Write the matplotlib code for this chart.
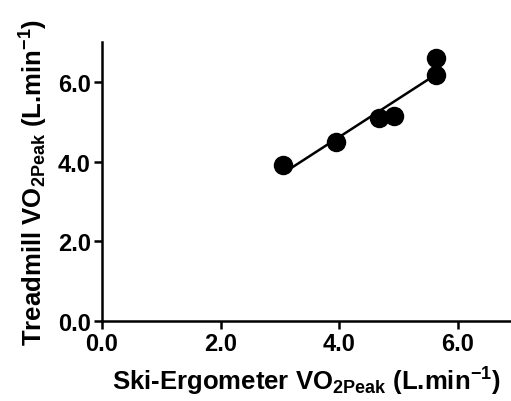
import numpy as np
import matplotlib
matplotlib.use("Agg")
import matplotlib.pyplot as plt

# peak VO2 values (L.min-1)
ski_vo2 = [3.05, 3.95, 4.68, 4.92, 5.63, 5.63]
treadmill_vo2 = [3.92, 4.48, 5.10, 5.14, 6.17, 6.59]
ticks = [0.0, 2.0, 4.0, 6.0]

plt.rcParams['font.family'] = 'Liberation Sans'
plt.rcParams['font.weight'] = 'bold'
plt.rcParams['axes.labelweight'] = 'bold'
plt.rcParams['mathtext.fontset'] = 'custom'
plt.rcParams['mathtext.rm'] = 'Liberation Sans:bold'
plt.rcParams['mathtext.it'] = 'Liberation Sans:bold'
plt.rcParams['mathtext.bf'] = 'Liberation Sans:bold'

fig = plt.figure(figsize=(5.11, 4.02), dpi=100)
ax = fig.add_axes([0.1996, 0.199, 0.8004, 0.694])

ax.plot(ski_vo2, treadmill_vo2, 'o', color='black', markersize=13)

# linear fit line
slope, icpt = np.polyfit(ski_vo2, treadmill_vo2, 1)
xs = np.array([min(ski_vo2), max(ski_vo2)])
ax.plot(xs, slope * xs + icpt, color='black', linewidth=1.8)

ax.set_xlim(0, 6.9)
ax.set_ylim(0, 7.0)
ax.set_xticks(ticks)
ax.set_yticks(ticks)
ax.set_xticklabels(['%.1f' % t for t in ticks])
ax.set_yticklabels(['%.1f' % t for t in ticks])

for side in ['top', 'right']:
    ax.spines[side].set_visible(False)
for side in ['left', 'bottom']:
    ax.spines[side].set_linewidth(1.8)
ax.tick_params(width=1.8, length=6, labelsize=17, pad=2)

ax.set_xlabel(r'Ski-Ergometer VO$_{2Peak}$ (L.min$^{-1}$)', fontsize=18.5, labelpad=7)
ax.set_ylabel(r'Treadmill VO$_{2Peak}$ (L.min$^{-1}$)', fontsize=18.5, labelpad=6)

fig.savefig('out.png', dpi=100)
